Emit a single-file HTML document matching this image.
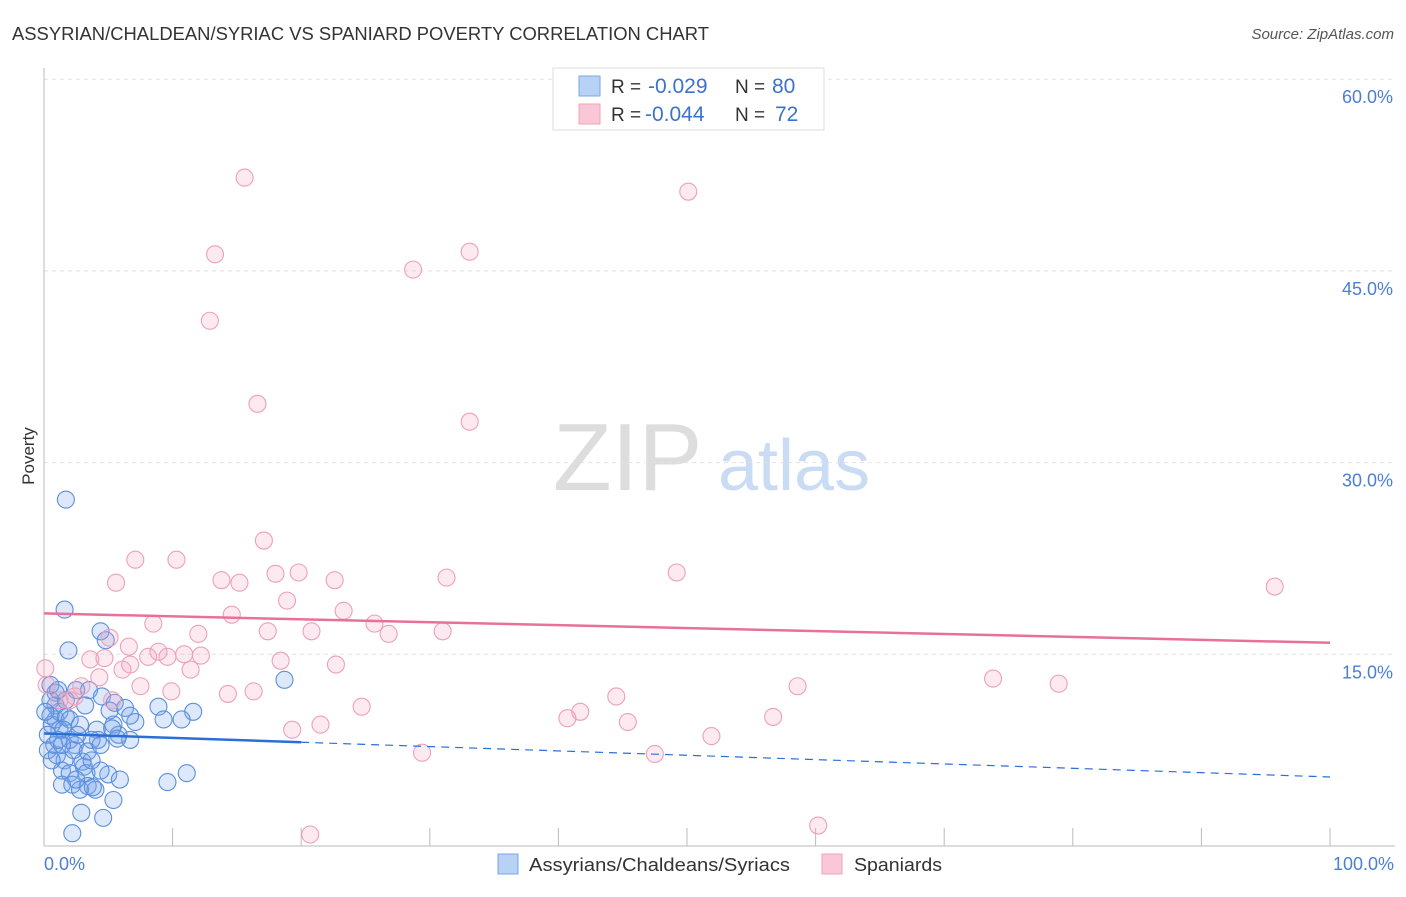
<!DOCTYPE html>
<html><head><meta charset="utf-8"><style>
body{margin:0;background:#fff;font-family:"Liberation Sans",sans-serif}
svg text{font-family:"Liberation Sans",sans-serif}
</style></head><body>
<svg width="1406" height="892" xmlns="http://www.w3.org/2000/svg">
<text x="12" y="40" font-size="18" fill="#333" textLength="697" lengthAdjust="spacingAndGlyphs">ASSYRIAN/CHALDEAN/SYRIAC VS SPANIARD POVERTY CORRELATION CHART</text>
<text x="1394" y="39" font-size="15" fill="#555" font-style="italic" text-anchor="end">Source: ZipAtlas.com</text>
<text x="34" y="456" font-size="17" fill="#333" transform="rotate(-90 34 456)" text-anchor="middle">Poverty</text>
<g>
<text x="553" y="490" font-size="96" fill="#ddd" font-family="Liberation Serif">ZIP</text>
<text x="718" y="490" font-size="72" fill="#c9dcf3">atlas</text>
</g>
<g id="grid"></g><g id="axes"></g><g id="marks"></g><g id="trends"></g>
<g>
<rect x="553" y="68" width="271" height="62" fill="#fff" stroke="#ddd"/>
<rect x="579" y="76" width="21" height="20" fill="#b8d2f5" stroke="#7aa7e6"/>
<rect x="579" y="104" width="21" height="20" fill="#f9c8d6" stroke="#f0a3ba"/>
<text x="611" y="93" font-size="19" fill="#333">R = <tspan x="648" fill="#3b73cc" font-size="21">-0.029</tspan><tspan x="735">N = </tspan><tspan x="772" fill="#3b73cc" font-size="21">80</tspan></text>
<text x="611" y="121" font-size="19" fill="#333">R = <tspan x="645" fill="#3b73cc" font-size="21">-0.044</tspan><tspan x="735">N = </tspan><tspan x="775" fill="#3b73cc" font-size="21">72</tspan></text>
</g>
<g>
<rect x="498" y="854" width="20" height="20" fill="#b8d2f5" stroke="#7aa7e6"/>
<text x="529" y="871" font-size="18" fill="#333" textLength="261" lengthAdjust="spacingAndGlyphs">Assyrians/Chaldeans/Syriacs</text>
<rect x="822" y="854" width="20" height="20" fill="#f9c8d6" stroke="#f0a3ba"/>
<text x="854" y="871" font-size="18" fill="#333" textLength="88" lengthAdjust="spacingAndGlyphs">Spaniards</text>
</g>
</svg>
<script>
const blueX=[1.7,1.6,4.4,1.9,4.8,0.5,0.9,2.5,3.5,4.5,5.5,8.9,11.6,10.7,9.3,7.1,5.4,4.1,5.8,6.7,4.2,0.9,0.6,1.2,0.3,2.0,2.4,1.0,1.6,3.0,3.1,1.4,2.0,3.3,5.0,5.9,9.6,11.1,1.4,2.2,3.4,4.0,2.8,3.8,5.4,2.9,4.6,2.2,18.7,0.9,0.5,1.2,1.7,0.3,0.8,2.0,2.8,3.7,5.3,5.7,6.3,6.7,5.1,1.1,0.5,0.1,1.5,2.3,3.4,3.7,4.4,4.4,0.6,2.6,1.7,1.1,2.5,3.2,1.4];
const blueY=[27.1,18.5,16.8,15.3,16.1,12.6,12.0,12.2,12.2,11.7,11.2,10.9,10.5,9.9,9.9,9.7,9.5,9.1,8.7,8.3,8.3,9.9,9.5,9.1,8.7,8.3,7.9,7.1,6.7,6.6,6.2,5.9,5.7,5.7,5.6,5.2,5.0,5.7,4.8,4.8,4.7,4.4,4.4,4.6,3.6,2.6,2.2,1.0,13.0,11.0,11.4,10.5,10.1,7.5,7.9,9.9,9.5,8.3,9.2,8.4,10.8,10.2,10.6,8.3,10.2,10.5,9.1,7.5,7.4,6.7,5.9,7.9,6.7,8.7,11.4,12.2,5.2,11.0,7.9];
const pinkX=[15.6,50.1,13.3,33.1,28.7,12.9,16.6,33.1,17.1,7.1,10.3,95.7,5.6,13.8,15.2,18.0,19.8,22.6,31.3,49.2,18.9,14.6,23.3,8.5,25.7,17.4,20.8,31.0,26.8,12.0,5.1,6.6,8.9,10.9,12.2,8.1,9.6,4.7,3.6,18.4,22.7,6.1,11.4,4.3,2.9,7.5,9.9,16.3,14.3,2.4,1.2,24.7,58.6,73.8,78.9,44.5,41.7,40.7,45.4,56.7,21.5,19.3,51.9,47.5,29.4,20.7,60.2,0.2,2.0,6.7,5.3,0.1];
const pinkY=[52.3,51.2,46.3,46.5,45.1,41.1,34.6,33.2,23.9,22.4,22.4,20.3,20.6,20.8,20.6,21.3,21.4,20.8,21.0,21.4,19.2,18.1,18.4,17.4,17.4,16.8,16.8,16.8,16.6,16.6,16.3,15.6,15.2,15.0,14.9,14.8,14.8,14.7,14.6,14.5,14.2,13.8,13.8,13.2,12.5,12.5,12.1,12.1,11.9,11.7,11.4,10.9,12.5,13.1,12.7,11.7,10.5,10.0,9.7,10.1,9.5,9.1,8.6,7.2,7.3,0.9,1.6,12.6,11.4,14.2,11.4,13.9];
const yTicks=[15,30,45,60];
const yTickLabels=["15.0%","30.0%","45.0%","60.0%"];
const xTickLabels=["0.0%","100.0%"];
const blueTrend=[8.8,5.4];
const blueSolidEnd=20;
const pinkTrend=[18.2,15.9];

const NS="http://www.w3.org/2000/svg";
const X=v=>44+v*12.86, Y=v=>846-v*12.78;
function mk(t,a,p){const e=document.createElementNS(NS,t);for(const k in a)e.setAttribute(k,a[k]);document.getElementById(p).appendChild(e);return e;}
yTicks.forEach((t,i)=>{
  const g=mk('line',{x1:44,x2:1395,y1:Y(t),y2:Y(t),stroke:'#e2e2e2','stroke-dasharray':'4,4'},'grid');
  
  
  const l=mk('text',{x:1393,y:Y(t)+24,'font-size':18,fill:'#4a7fd4','text-anchor':'end'},'grid');
  l.textContent=yTickLabels[i];
  
  
});
const ax=mk('line',{x1:44,x2:44,y1:68,y2:846,stroke:'#bbb'},'axes');


const bx=mk('line',{x1:44,x2:1395,y1:846,y2:846,stroke:'#bbb'},'axes');


for(let k=1;k<=10;k++){
  const t=mk('line',{x1:X(k*10),x2:X(k*10),y1:828,y2:846,stroke:'#bbb'},'axes');
  
  
}
[[0,'start',44],[100,'end',1394]].forEach((d,i)=>{
  const t=mk('text',{x:d[2],y:870,'font-size':18,fill:'#4a7fd4','text-anchor':d[1]},'axes');
  t.textContent=xTickLabels[i];
  
  
});
blueX.forEach((x,i)=>{
  const c=mk('circle',{cx:X(x),cy:Y(blueY[i]),r:8.5,fill:'rgba(120,165,235,0.25)',stroke:'#5b8fdd','stroke-width':1.1},'marks');
  
  
});
pinkX.forEach((x,i)=>{
  const c=mk('circle',{cx:X(x),cy:Y(pinkY[i]),r:8.5,fill:'rgba(245,160,190,0.22)',stroke:'#eea0b8','stroke-width':1.1},'marks');
  
  
});
const bAt=x=>blueTrend[0]+(blueTrend[1]-blueTrend[0])*x/100;
const b1=mk('line',{x1:X(0),y1:Y(bAt(0)),x2:X(blueSolidEnd),y2:Y(bAt(blueSolidEnd)),stroke:'#2a6fd6','stroke-width':2.5},'trends');


const b2=mk('line',{x1:X(blueSolidEnd),y1:Y(bAt(blueSolidEnd)),x2:X(100),y2:Y(bAt(100)),stroke:'#2a6fd6','stroke-width':1.2,'stroke-dasharray':'8,6'},'trends');


const p1=mk('line',{x1:X(0),y1:Y(pinkTrend[0]),x2:X(100),y2:Y(pinkTrend[1]),stroke:'#e8719a','stroke-width':2.5},'trends');


</script>
</body></html>
